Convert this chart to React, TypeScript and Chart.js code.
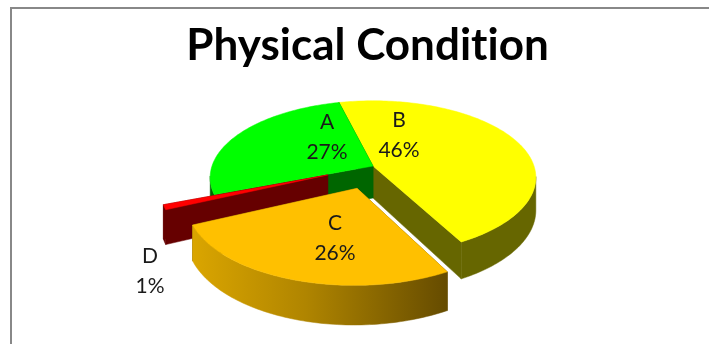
import React, { useEffect, useRef } from "react";
import { Chart, registerables } from "chart.js";

Chart.register(...registerables);

// Chart content
const chartTitle = "Physical Condition";
const categories = ["A", "B", "C", "D"];
const shares = [27, 46, 26, 1];
const explodeFractions = [0, 0, 0.3, 0.3];
const firstSliceRotation = -111.2;

// Slice styling
const topColors = ["#00ff00", "#ffff00", "#ffc000", "#ff0000"];
const wallColors = ["#006600", "#666600", "#664c00", "#660000"];
const labelPositions = [
  [327, 137],
  [399, 135],
  [335, 238],
  [150, 271],
];

// Oblique view of the pie plane, with mild perspective towards the viewer
const view = { cx: 373, cy: 166, rx: 161, ry: 75, perspective: 0.15, depth: 32 };

type Pt = { x: number; y: number };

function project(px: number, py: number, drop: boolean): Pt {
  const s = 1 / (1 - view.perspective * py);
  return {
    x: view.cx + view.rx * px * s,
    y: view.cy + view.ry * py * s + (drop ? view.depth * s : 0),
  };
}

function polygon(ctx: CanvasRenderingContext2D, pts: Pt[], fill: string | CanvasGradient) {
  ctx.beginPath();
  pts.forEach((p, i) => (i ? ctx.lineTo(p.x, p.y) : ctx.moveTo(p.x, p.y)));
  ctx.closePath();
  ctx.fillStyle = fill;
  ctx.strokeStyle = fill;
  ctx.lineWidth = 0.5;
  ctx.fill();
  ctx.stroke();
}

// Draws the arcs computed by the pie controller as extruded, exploded wedges
const extrudedPie = {
  id: "extrudedPie",
  beforeDraw(chart: Chart) {
    const { ctx, width, height } = chart;
    // a non-zero spacing keeps the title's "ti" from forming a ligature
    (ctx as any).letterSpacing = "0.01px";
    ctx.save();
    ctx.fillStyle = "#ffffff";
    ctx.fillRect(0, 0, width, height);
    ctx.fillStyle = "#888888";
    ctx.fillRect(10, 7, width - 10, 2);
    ctx.fillRect(10, 7, 2, height - 7);
    ctx.restore();
  },
  beforeDatasetDraw(chart: Chart) {
    const { ctx } = chart;
    const arcs = chart.getDatasetMeta(0).data as any[];
    ctx.save();
    // back-to-front painting order: B, A, D, C
    [1, 0, 3, 2].forEach((i) => {
      const arc = arcs[i];
      const a0 = arc.startAngle + Math.PI / 2;
      const a1 = arc.endAngle + Math.PI / 2;
      const mid = (a0 + a1) / 2;
      const e = explodeFractions[i];
      const ox = e * Math.sin(mid);
      const oy = -e * Math.cos(mid);
      const rimAt = (t: number): [number, number] => [ox + Math.sin(t), oy - Math.cos(t)];
      const steps = Math.max(4, Math.ceil((a1 - a0) / 0.02));
      const rim: { t: number; p: [number, number] }[] = [];
      for (let k = 0; k <= steps; k++) {
        const t = a0 + ((a1 - a0) * k) / steps;
        rim.push({ t, p: rimAt(t) });
      }
      const top = rim.map((r) => r.p);

      const apexTop = project(ox, oy, false);
      const apexLow = project(ox, oy, true);
      const radial = [top[0], top[top.length - 1]].sort((p, q) => p[1] - q[1]);
      radial.forEach((p) =>
        polygon(ctx, [apexTop, project(p[0], p[1], false), project(p[0], p[1], true), apexLow], wallColors[i])
      );

      // only the part of the rim turned towards the viewer shows a wall
      const front = rim.filter((r) => -Math.cos(r.t) >= 0.12).map((r) => r.p);
      if (front.length > 1) {
        let rimFill: string | CanvasGradient = wallColors[i];
        if (i === 2) {
          const g = ctx.createLinearGradient(190, 0, 446, 0);
          g.addColorStop(0, "#dba600");
          g.addColorStop(0.45, "#b08500");
          g.addColorStop(1, wallColors[i]);
          rimFill = g;
        }
        polygon(
          ctx,
          [
            ...front.map((p) => project(p[0], p[1], false)),
            ...front.slice().reverse().map((p) => project(p[0], p[1], true)),
          ],
          rimFill
        );
      }
      polygon(ctx, [apexTop, ...top.map((p) => project(p[0], p[1], false))], topColors[i]);
    });
    ctx.restore();
    return false;
  },
  afterDraw(chart: Chart) {
    const { ctx } = chart;
    ctx.save();
    ctx.font = "21px Lato";
    ctx.fillStyle = "#1a1a1a";
    ctx.textAlign = "center";
    ctx.textBaseline = "middle";
    categories.forEach((name, i) => {
      const [x, y] = labelPositions[i];
      ctx.fillText(name, x, y - 15);
      ctx.fillText(`${shares[i]}%`, x, y + 15);
    });
    ctx.restore();
  },
};

export default function App() {
  const ref = useRef<HTMLCanvasElement>(null);
  useEffect(() => {
    const chart = new Chart(ref.current!, {
      type: "pie",
      data: {
        labels: categories,
        datasets: [{ data: shares, backgroundColor: topColors }],
      },
      options: {
        responsive: false,
        animation: false,
        events: [],
        rotation: firstSliceRotation,
        layout: { padding: { left: 26 } },
        plugins: {
          legend: { display: false },
          tooltip: { enabled: false },
          title: {
            display: true,
            text: chartTitle,
            color: "#000000",
            font: { family: "Lato", size: 44, weight: "bold" },
            padding: { top: 19, bottom: 10 },
          },
        },
      },
      plugins: [extrudedPie],
    });
    return () => chart.destroy();
  }, []);
  return (
    <canvas
      ref={ref}
      width={709}
      height={344}
      style={{ position: "fixed", left: 0, top: 0, width: 709, height: 344, display: "block" }}
    />
  );
}
